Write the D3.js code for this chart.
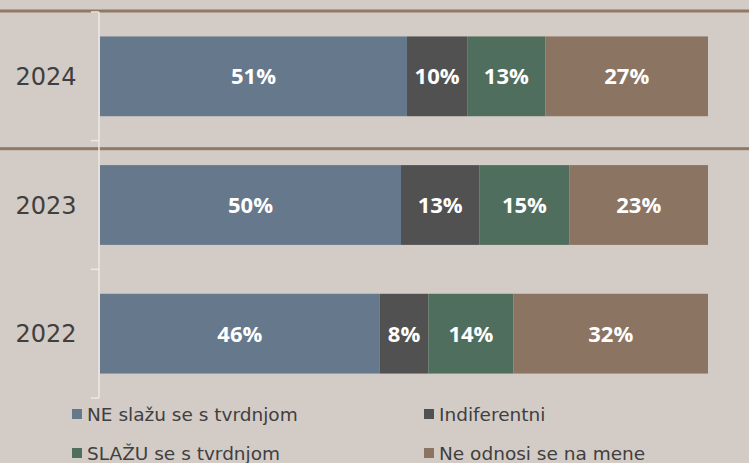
<!DOCTYPE html>
<html>
<head>
<meta charset="utf-8">
<script src="https://cdn.jsdelivr.net/npm/d3@7"></script>
<style>
  body { margin: 0; background: #d3cbc5; }
  svg { display: block; }
</style>
</head>
<body>
<div id="chart"></div>
<script>
// data
const years = ["2024", "2023", "2022"]
const seriesNames = ["NE slažu se s tvrdnjom", "Indiferentni", "SLAŽU se s tvrdnjom", "Ne odnosi se na mene"]
const neSlazu = [51, 50, 46]
const indiferentni = [10, 13, 8]
const slazu = [13, 15, 14]
const neOdnosi = [27, 23, 32]
const colors = ["#66788c", "#515151", "#4f6e5e", "#8b7462"]

const width = 749
const height = 463
const margin = {top: 12, bottom: 65, left: 100, right: 41}

const svg = d3.select("div#chart").append("svg").attr("width", width).attr("height", height)
svg.append("rect").attr("width", width).attr("height", height).attr("fill", "#d3cbc5")

const rows = years.map((y, i) => ({year: y, a: neSlazu[i], b: indiferentni[i], c: slazu[i], d: neOdnosi[i]}))
const keys = ["a", "b", "c", "d"]
const stack = d3.stack().keys(keys).offset(d3.stackOffsetExpand)
const stacked = stack(rows)

const x = d3.scaleLinear().domain([0, 1]).range([margin.left, width - margin.right])
const y = d3.scaleBand().domain(years).range([margin.top, height - margin.bottom]).paddingInner(0.38).paddingOuter(0.19)

// brown separators
const band = (height - margin.bottom - margin.top) / years.length
;[margin.top - 1, margin.top + band + 8].forEach(yy => {
  svg.append("rect").attr("x", 0).attr("y", yy - 1.5).attr("width", width).attr("height", 3).attr("fill", "#8f7a66")
})

// axis
const axisG = svg.append("g").attr("transform", `translate(${margin.left - 1}, 0)`)
axisG.append("line").attr("y1", margin.top).attr("y2", height - margin.bottom)
  .attr("stroke", "#ece8e4").attr("stroke-width", 1.5)
d3.range(years.length + 1).forEach(i => {
  const ty = margin.top + i * band
  axisG.append("line").attr("x1", -8).attr("x2", 0).attr("y1", ty).attr("y2", ty)
    .attr("stroke", "#ece8e4").attr("stroke-width", 1.5)
})
svg.selectAll("text.year").data(years).enter().append("text")
  .attr("class", "year")
  .attr("x", 46).attr("y", d => y(d) + y.bandwidth() / 2)
  .attr("dy", "0.36em").attr("text-anchor", "middle")
  .style("font-family", "'DejaVu Sans', Verdana, sans-serif").style("font-size", "24px")
  .attr("fill", "#3f3f3f")
  .text(d => d)

// bars
const layers = svg.selectAll("g.layer").data(stacked).enter().append("g")
  .attr("class", "layer").attr("fill", (d, i) => colors[i])
layers.selectAll("rect").data(d => d).enter().append("rect")
  .attr("x", d => x(d[0]))
  .attr("y", d => y(d.data.year))
  .attr("width", d => x(d[1]) - x(d[0]))
  .attr("height", y.bandwidth())
layers.each(function(layer) {
  d3.select(this).selectAll("text").data(layer).enter().append("text")
    .attr("x", d => (x(d[0]) + x(d[1])) / 2)
    .attr("y", d => y(d.data.year) + y.bandwidth() / 2)
    .attr("dy", "0.36em").attr("text-anchor", "middle")
    .attr("fill", "#ffffff")
    .style("font-family", "'Open Sans', sans-serif").style("font-weight", "bold").style("font-size", "22px")
    .text(d => d.data[layer.key] + "%")
})

// legend
const legendPos = [[72, 414], [424, 414], [72, 453], [424, 453]]
const legend = svg.selectAll("g.legend").data(seriesNames).enter().append("g")
  .attr("class", "legend")
  .attr("transform", (d, i) => `translate(${legendPos[i][0]}, ${legendPos[i][1]})`)
legend.append("rect").attr("x", 0).attr("y", -5).attr("width", 10).attr("height", 10)
  .attr("fill", (d, i) => colors[i])
legend.append("text").attr("x", 15).attr("dy", "0.36em")
  .style("font-family", "'DejaVu Sans', Verdana, sans-serif").style("font-size", "18.5px")
  .attr("fill", "#404040")
  .text(d => d)
</script>
</body>
</html>
